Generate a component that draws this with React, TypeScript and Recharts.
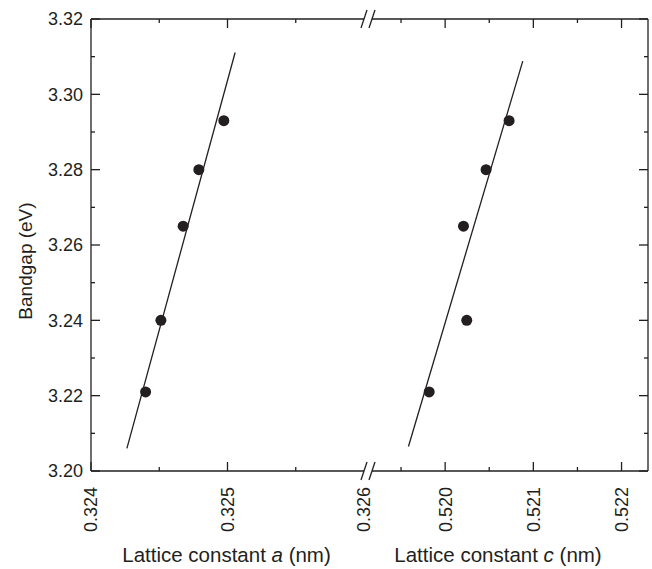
import React from 'react';
import { ScatterChart, Scatter, XAxis, YAxis, ReferenceDot, Label } from 'recharts';

// ---- data ----
const aLattice = [0.3244, 0.324512, 0.324675, 0.32479, 0.324973];
const aBandgap = [3.221, 3.24, 3.265, 3.28, 3.293];
const cLattice = [0.519819, 0.520245, 0.520208, 0.520464, 0.520725];
const cBandgap = [3.221, 3.24, 3.265, 3.28, 3.293];
const aFitX = [0.324263, 0.325056];
const aFitY = [3.206, 3.3111];
const cFitX = [0.519584, 0.52088];
const cFitY = [3.2065, 3.3088];

const aDomain: [number, number] = [0.324, 0.326];
const cDomain: [number, number] = [0.51908, 0.5223];
const yDomain: [number, number] = [3.2, 3.32];
const aTicks = [0.324, 0.3245, 0.325, 0.3255, 0.326];
const cTicks = [0.5195, 0.52, 0.5205, 0.521, 0.5215, 0.522];
const yTicks = [3.2, 3.21, 3.22, 3.23, 3.24, 3.25, 3.26, 3.27, 3.28, 3.29, 3.3, 3.31, 3.32];

const aPoints = aLattice.map((x, i) => ({ x, y: aBandgap[i] }));
const cPoints = cLattice.map((x, i) => ({ x, y: cBandgap[i] }));
const aFit = aFitX.map((x, i) => ({ x, y: aFitY[i] }));
const cFit = cFitX.map((x, i) => ({ x, y: cFitY[i] }));

const INK = '#231f20';
const FONT = '"Liberation Sans", Arial, Helvetica, sans-serif';
const SW = 1.3;

const isMajorX = (v: number) => Math.abs(v * 1000 - Math.round(v * 1000)) < 1e-6;
const isMajorY = (v: number) => Math.abs(v * 50 - Math.round(v * 50)) < 1e-6;

const bottomTick = (edge: number | null) => (p: any) => {
  const { x, y, payload } = p;
  const v = payload.value;
  const major = isMajorX(v);
  const atEdge = edge !== null && Math.abs(v - edge) < 1e-9;
  return (
    <g>
      {!atEdge && <line x1={x} y1={y} x2={x} y2={y - (major ? 9 : 4)} stroke={INK} strokeWidth={SW} />}
      {major && (
        <text
          x={x}
          y={y + 16}
          transform={`rotate(-90 ${x} ${y + 16})`}
          textAnchor="end"
          dy="0.36em"
          fontSize={18}
          fontFamily={FONT}
          fill={INK}
        >
          {v.toFixed(3)}
        </text>
      )}
    </g>
  );
};

const topTick = (edge: number | null) => (p: any) => {
  const { x, y, payload } = p;
  const v = payload.value;
  const major = isMajorX(v);
  const atEdge = edge !== null && Math.abs(v - edge) < 1e-9;
  if (atEdge) return <g />;
  return <line x1={x} y1={y} x2={x} y2={y + (major ? 9 : 4)} stroke={INK} strokeWidth={SW} />;
};

const leftTick = (p: any) => {
  const { x, y, payload } = p;
  const v = payload.value;
  const major = isMajorY(v);
  return (
    <g>
      <line x1={x} y1={y} x2={x + (major ? 9 : 4)} y2={y} stroke={INK} strokeWidth={SW} />
      {major && (
        <text x={x - 8} y={y} dy="0.36em" textAnchor="end" fontSize={18} fontFamily={FONT} fill={INK}>
          {v.toFixed(2)}
        </text>
      )}
    </g>
  );
};

const rightTick = (p: any) => {
  const { x, y, payload } = p;
  const v = payload.value;
  const major = isMajorY(v);
  return <line x1={x} y1={y} x2={x - (major ? 9 : 4)} y2={y} stroke={INK} strokeWidth={SW} />;
};

const Dot = (p: any) => <circle cx={p.cx} cy={p.cy} r={5.5} fill={INK} />;
const NoDot = () => <g />;

const BreakMark = (p: any) => {
  const { cx, cy } = p;
  const s1 = cx;
  const s2 = cx + 8;
  return (
    <g>
      <rect x={s1} y={cy - 2} width={s2 - s1} height={4} fill="#fff" />
      <line x1={s1 - 3} y1={cy + 9} x2={s1 + 3} y2={cy - 9} stroke={INK} strokeWidth={SW} />
      <line x1={s2 - 3} y1={cy + 9} x2={s2 + 3} y2={cy - 9} stroke={INK} strokeWidth={SW} />
    </g>
  );
};

const xTitle = (varName: string, shift: number, gap: string) => (p: any) => {
  const vb = p.viewBox || { x: 0, y: 471, width: 0, height: 0 };
  const cx = vb.x + vb.width / 2 + shift;
  return (
    <text x={cx} y={vb.y + 91} textAnchor="middle" fontSize={20.5} fontFamily={FONT} fill={INK}>
      {'Lattice constant '}
      <tspan fontStyle="italic">{varName}</tspan>
      {gap + '(nm)'}
    </text>
  );
};

const yTitle = (p: any) => {
  const vb = p.viewBox || { x: 0, y: 19, width: 91, height: 452 };
  const cy = vb.y + vb.height / 2 + 16;
  const bx = 32;
  return (
    <text
      x={bx}
      y={cy}
      transform={`rotate(-90 ${bx} ${cy})`}
      textAnchor="middle"
      fontSize={19}
      fontFamily={FONT}
      fill={INK}
    >
      Bandgap (eV)
    </text>
  );
};

export default function App() {
  return (
    <div style={{ position: 'absolute', left: 0, top: 0, width: 652, height: 569, background: '#fff' }}>
      <div style={{ position: 'absolute', left: 0, top: 0 }}>
        <ScatterChart width={384} height={569} margin={{ top: 18, right: 20, bottom: 0, left: 0 }}>
          <XAxis
            xAxisId="b"
            type="number"
            dataKey="x"
            orientation="bottom"
            domain={aDomain}
            ticks={aTicks}
            interval={0}
            allowDataOverflow
            height={98}
            tickSize={0}
            tickMargin={0}
            tickLine={false}
            axisLine={{ stroke: INK, strokeWidth: SW }}
            tick={bottomTick(0.326)}
          >
            <Label content={xTitle('a', -1, '  ')} />
          </XAxis>
          <XAxis
            xAxisId="t"
            type="number"
            dataKey="x"
            orientation="top"
            domain={aDomain}
            ticks={aTicks}
            interval={0}
            allowDataOverflow
            height={1}
            tickSize={0}
            tickMargin={0}
            tickLine={false}
            axisLine={{ stroke: INK, strokeWidth: SW }}
            tick={topTick(0.326)}
          />
          <YAxis
            yAxisId="l"
            type="number"
            dataKey="y"
            orientation="left"
            domain={yDomain}
            ticks={yTicks}
            interval={0}
            allowDataOverflow
            width={91}
            tickSize={0}
            tickMargin={0}
            tickLine={false}
            axisLine={{ stroke: INK, strokeWidth: SW }}
            tick={leftTick}
          >
            <Label content={yTitle} />
          </YAxis>
          <Scatter
            xAxisId="b"
            yAxisId="l"
            data={aFit}
            line={{ stroke: INK, strokeWidth: SW }}
            lineType="joint"
            shape={NoDot}
            isAnimationActive={false}
          />
          <Scatter xAxisId="b" yAxisId="l" data={aPoints} shape={Dot} isAnimationActive={false} />
        </ScatterChart>
      </div>
      <div style={{ position: 'absolute', left: 338, top: 0 }}>
        <ScatterChart width={314} height={569} margin={{ top: 18, right: 0, bottom: 0, left: 26 }}>
          <XAxis
            xAxisId="b"
            type="number"
            dataKey="x"
            orientation="bottom"
            domain={cDomain}
            ticks={cTicks}
            interval={0}
            allowDataOverflow
            height={98}
            tickSize={0}
            tickMargin={0}
            tickLine={false}
            axisLine={{ stroke: INK, strokeWidth: SW }}
            tick={bottomTick(null)}
          >
            <Label content={xTitle('c', -8, ' ')} />
          </XAxis>
          <XAxis
            xAxisId="t"
            type="number"
            dataKey="x"
            orientation="top"
            domain={cDomain}
            ticks={cTicks}
            interval={0}
            allowDataOverflow
            height={1}
            tickSize={0}
            tickMargin={0}
            tickLine={false}
            axisLine={{ stroke: INK, strokeWidth: SW }}
            tick={topTick(null)}
          />
          <YAxis
            yAxisId="r"
            type="number"
            dataKey="y"
            orientation="right"
            domain={yDomain}
            ticks={yTicks}
            interval={0}
            allowDataOverflow
            width={4}
            tickSize={0}
            tickMargin={0}
            tickLine={false}
            axisLine={{ stroke: INK, strokeWidth: SW }}
            tick={rightTick}
          />
          <Scatter
            xAxisId="b"
            yAxisId="r"
            data={cFit}
            line={{ stroke: INK, strokeWidth: SW }}
            lineType="joint"
            shape={NoDot}
            isAnimationActive={false}
          />
          <Scatter xAxisId="b" yAxisId="r" data={cPoints} shape={Dot} isAnimationActive={false} />
          <ReferenceDot xAxisId="b" yAxisId="r" x={cDomain[0]} y={yDomain[0]} shape={BreakMark} ifOverflow="visible" />
          <ReferenceDot xAxisId="b" yAxisId="r" x={cDomain[0]} y={yDomain[1]} shape={BreakMark} ifOverflow="visible" />
        </ScatterChart>
      </div>
    </div>
  );
}
